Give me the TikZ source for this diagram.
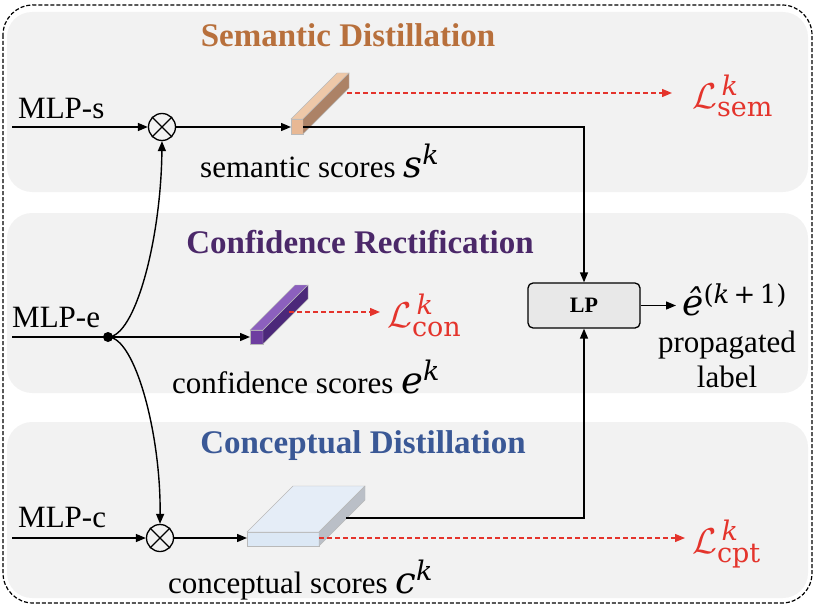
\RequirePackage{fix-cm}
\documentclass[tikz,border=0pt]{standalone}
\usepackage{amsmath}
\usepackage{fontspec}
\setmainfont{Liberation Serif}
\newfontfamily\varfont{DejaVu Serif}
\usepackage{tikz}
\usetikzlibrary{arrows.meta,positioning}
\definecolor{bandgray}{RGB}{242,242,242}
\definecolor{lpgray}{RGB}{232,232,232}
\definecolor{semtitle}{RGB}{184,112,60}
\definecolor{contitle}{RGB}{75,40,105}
\definecolor{cpttitle}{RGB}{58,88,150}
\definecolor{lossred}{RGB}{228,52,44}
\definecolor{semfront}{RGB}{232,184,148}
\definecolor{semtop}{RGB}{238,200,168}
\definecolor{semside}{RGB}{172,130,102}
\definecolor{confront}{RGB}{110,62,160}
\definecolor{contop}{RGB}{140,96,190}
\definecolor{conside}{RGB}{76,40,122}
\definecolor{cptfront}{RGB}{220,232,245}
\definecolor{cpttop}{RGB}{229,237,247}
\definecolor{cptside}{RGB}{186,191,199}
\tikzset{arr/.style={line width=1.4pt,-{Triangle[length=10pt,width=8pt]}}}
\tikzset{lossarr/.style={line width=1.3pt,draw=lossred,dash pattern=on 5pt off 3pt,-{Triangle[length=10pt,width=8pt,fill=lossred]}}}
\tikzset{band/.style={fill=bandgray,rounded corners=25pt}}
\tikzset{mult/.style={circle,draw,line width=1.3pt,minimum size=27pt,inner sep=0pt}}
\tikzset{txt/.style={font=\fontsize{31}{36}\selectfont,inner sep=0pt,anchor=base west}}
\tikzset{ttl/.style={font=\fontsize{33}{38}\selectfont\bfseries,inner sep=0pt,anchor=base}}
\tikzset{loss/.style={text=lossred,font=\fontsize{31}{36}\selectfont,inner sep=0pt,anchor=base west}}
% front top-left (#1,#2), width #3, height #4, depth #5, fills #6 #7 #8
\newcommand{\scorebar}[8]{%
  \filldraw[#6,draw=gray!55] (#1,#2) rectangle ++(#3,#4);
  \filldraw[#7,draw=gray!55] (#1,#2) -- ++(#5,-#5) -- ++(#3,0) -- ++(-#5,#5) -- cycle;
  \filldraw[#8,draw=gray!55] (#1+#3,#2) -- ++(#5,-#5) -- ++(0,#4) -- ++(-#5,#5) -- cycle;
}
\newcommand{\fsz}[1]{\fontsize{#1}{#1}\selectfont}
\newcommand{\scorevar}[1]{{\varfont\itshape\fsz{37}#1}\raisebox{13pt}{\varfont\itshape\fsz{27}k}}
\newcommand{\lossvar}[1]{{\fsz{36}$\mathcal{L}$}\rlap{\raisebox{13pt}{\varfont\itshape\fsz{27}\,k}}\raisebox{-9pt}{\varfont\fsz{27}#1}}
\begin{document}
\begin{tikzpicture}[x=1pt,y=-1pt]
	\useasboundingbox (0,0) rectangle (822,610);
	% bands
	\fill[band] (7,12) rectangle (808,192);
	\fill[band] (7,213) rectangle (808,393);
	\fill[band] (7,422) rectangle (808,598);
	\draw[line width=1.2pt,dash pattern=on 4pt off 2pt,rounded corners=30pt] (3,5) rectangle (812,603);
	% titles
	\node[ttl,text=semtitle] (tsem) at (348,47) {Semantic Distillation};
	\node[ttl,text=contitle] (tcon) at (360,253) {Confidence Rectification};
	\node[ttl,text=cpttitle] (tcpt) at (363,453) {Conceptual Distillation};
	% inputs
	\node[txt] (mlps) at (18,118) {MLP-s};
	\node[txt] (mlpe) at (12,327) {MLP-e};
	\node[txt] (mlpc) at (18,527) {MLP-c};
	\coordinate (inS) at (12,127);
	\coordinate (inE) at (12,337);
	\coordinate (inC) at (12,538);
	\node[mult] (mulS) at (162,127) {};
	\draw[line width=1.3pt] (mulS.north west) -- (mulS.south east) (mulS.north east) -- (mulS.south west);
	\node[mult] (mulC) at (160,538) {};
	\draw[line width=1.3pt] (mulC.north west) -- (mulC.south east) (mulC.north east) -- (mulC.south west);
	\fill (108,337) circle (5pt) coordinate (dot);
	% score bars
	\scorebar{291}{119}{12}{15}{46}{semfront}{semtop}{semside}
	\scorebar{250}{330}{13}{14}{45}{confront}{contop}{conside}
	\scorebar{247}{532}{72}{14}{46}{cptfront}{cpttop}{cptside}
	\coordinate (barSin) at (291,127);
	\coordinate (barSout) at (303,127);
	\coordinate (barSloss) at (347,93);
	\coordinate (barEin) at (250,337);
	\coordinate (barEloss) at (289,312);
	\coordinate (barCin) at (247,538);
	\coordinate (barCout) at (346,518);
	\coordinate (barCloss) at (319,538);
	% labels
	\node[txt] (ssem) at (200,177) {semantic scores \scorevar{s}};
	\node[txt] (scon) at (172,393) {confidence scores \scorevar{e}};
	\node[txt] (scpt) at (168,593) {conceptual scores \scorevar{c}};
	\node[loss] (lsem) at (692,108) {\lossvar{sem}};
	\node[loss] (lcon) at (387,327) {\lossvar{con}};
	\node[loss] (lcpt) at (692,553) {\lossvar{cpt}};
	% label propagation
	\node[draw,line width=1.3pt,fill=lpgray,rounded corners=5pt,minimum width=112pt,minimum height=45pt,font=\fontsize{22}{26}\selectfont\bfseries] (lp) at (584,305.5) {LP};
	\node[txt,font=\varfont\fsz{36}] (ehat) at (682,315) {\textit{ê}\raisebox{12pt}{\fsz{26}(\textit{k}\,+\,1)}};
	\node[txt,anchor=base] (prop) at (727,352) {propagated};
	\node[txt,anchor=base] (lab) at (727,387) {label};
	% connectors
	\draw[arr] (inS) -- (mulS);
	\draw[arr] (mulS) -- (barSin);
	\draw[line width=1.4pt] (inE) -- (dot);
	\draw[arr] (dot) -- (barEin);
	\draw[arr] (inC) -- (mulC);
	\draw[arr] (mulC) -- (barCin);
	\draw[arr] (dot) .. controls (135,337) and (161,240) .. (mulS.south);
	\draw[arr] (dot) .. controls (135,337) and (161,434) .. (mulC.north);
	\draw[arr] (barSout) -| (lp.north);
	\draw[arr] (barCout) -| (lp.south);
	\draw[arr,shorten >=6pt] (lp.east) -- (lp.east -| ehat.west);
	\draw[lossarr] (barSloss) -- ([xshift=-20pt]barSloss -| lsem.west);
	\draw[lossarr] (barEloss) -- ([xshift=-7pt]barEloss -| lcon.west);
	\draw[lossarr] (barCloss) -- ([xshift=-7pt]barCloss -| lcpt.west);
\end{tikzpicture}
\end{document}
